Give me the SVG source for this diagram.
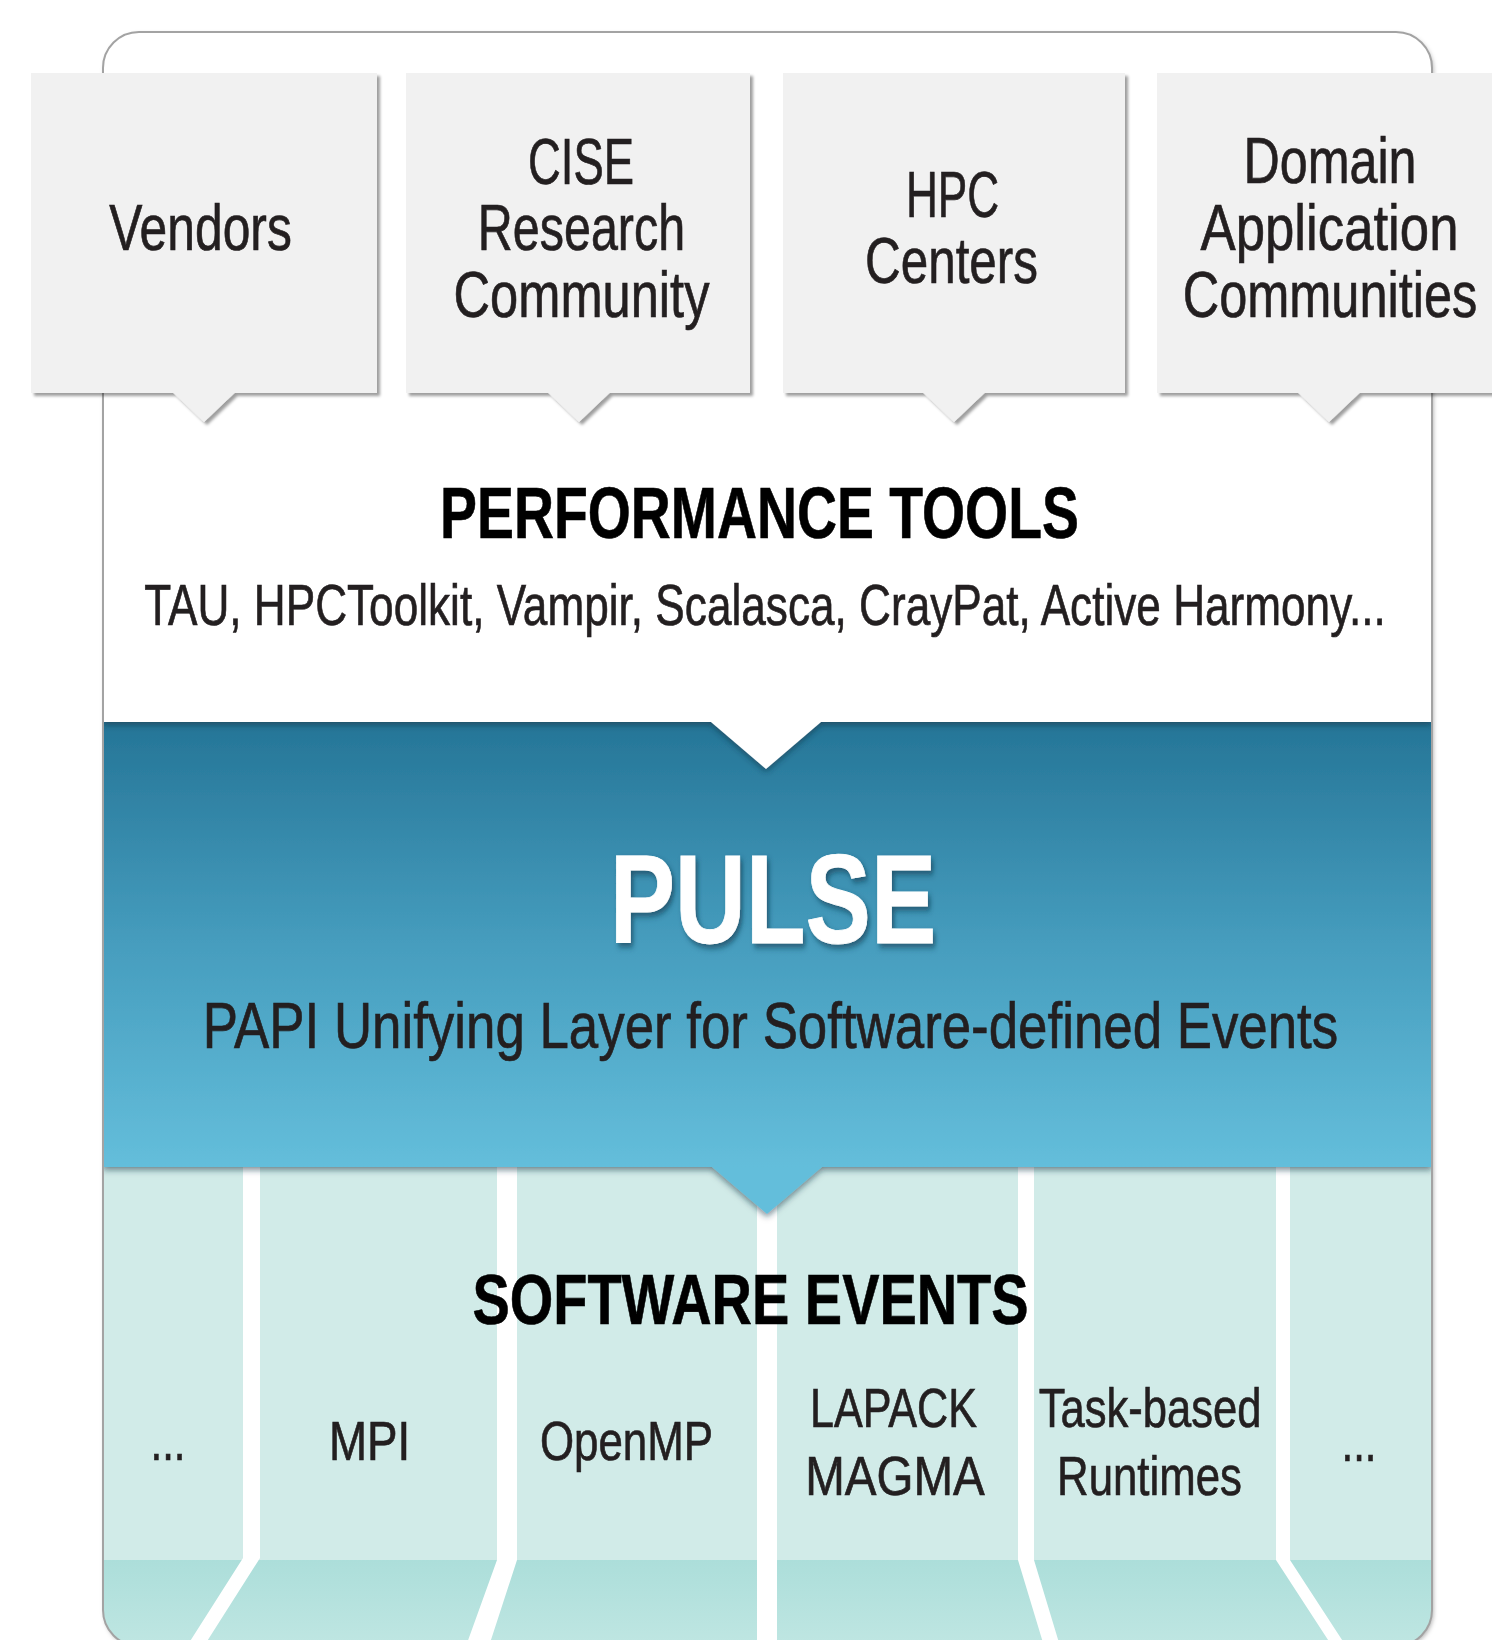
<svg xmlns="http://www.w3.org/2000/svg" width="1492" height="1640" viewBox="0 0 1492 1640">
  <defs>
    <style>
      text { text-anchor: middle; }
      .lbl { font-family: "Liberation Sans", Arial, sans-serif; fill: #231f20; stroke: #231f20; stroke-width: 0.7; }
      .box { fill: #f1f1f1; filter: url(#boxShadow); }
      .hdr { font-family: "Liberation Sans", Arial, sans-serif; font-weight: bold; fill: #000; stroke: #000; stroke-width: 0.6; }
      .sep { fill: #ffffff; }
    </style>
    <filter id="boxShadow" x="-5%" y="-5%" width="115%" height="115%">
      <feDropShadow dx="3" dy="3" stdDeviation="1.6" flood-color="#000" flood-opacity="0.38"/>
    </filter>
    <filter id="edgeShadow" x="-5%" y="-10%" width="110%" height="125%">
      <feDropShadow dx="0" dy="3" stdDeviation="3" flood-color="#0b2f40" flood-opacity="0.55"/>
    </filter>
    <filter id="outerShadow" x="-5%" y="-5%" width="110%" height="110%">
      <feDropShadow dx="1.5" dy="2" stdDeviation="2" flood-color="#000" flood-opacity="0.3"/>
    </filter>
    <filter id="textShadow" x="-10%" y="-10%" width="130%" height="140%">
      <feDropShadow dx="3" dy="4" stdDeviation="3" flood-color="#08384f" flood-opacity="0.65"/>
    </filter>
    <linearGradient id="bandGrad" gradientUnits="userSpaceOnUse" x1="0" y1="722" x2="0" y2="1167">
      <stop offset="0" stop-color="#257597"/>
      <stop offset="0.5" stop-color="#469dbe"/>
      <stop offset="1" stop-color="#64bedb"/>
    </linearGradient>
    <linearGradient id="stripGrad" gradientUnits="userSpaceOnUse" x1="0" y1="1560" x2="0" y2="1646">
      <stop offset="0" stop-color="#acdeda"/>
      <stop offset="1" stop-color="#bfe6e2"/>
    </linearGradient>
    <clipPath id="outerClip">
      <rect x="103" y="32" width="1329" height="1614" rx="36" ry="36"/>
    </clipPath>
  </defs>

  <rect x="0" y="0" width="1492" height="1640" fill="#ffffff"/>

  <!-- outer container -->
  <g id="container">
    <rect x="103" y="32" width="1329" height="1614" rx="36" ry="36" fill="#ffffff" filter="url(#outerShadow)"/>
  </g>

  <g clip-path="url(#outerClip)">
    <!-- software events columns -->
    <g id="software-events">
      <rect x="103" y="1167" width="1329" height="479" fill="#d1ebe8"/>
      <rect x="103" y="1560" width="1329" height="86" fill="url(#stripGrad)"/>
      <polygon class="sep" points="243,1167 260,1167 260,1558 204,1646 187,1646 243,1558"/>
      <polygon class="sep" points="497,1167 517,1167 517,1560 489,1646 466,1646 497,1560"/>
      <rect class="sep" x="757" y="1167" width="20" height="479"/>
      <polygon class="sep" points="1018,1167 1034,1167 1034,1560 1060,1646 1044,1646 1018,1560"/>
      <polygon class="sep" points="1276,1167 1290,1167 1290,1560 1346,1646 1332,1646 1276,1560"/>
      <text class="hdr" font-size="70" transform="translate(750.5,1323.5) scale(0.799,1)">SOFTWARE EVENTS</text>
      <text class="lbl" font-size="56" transform="translate(168,1460) scale(0.75,1)">...</text>
      <text class="lbl" font-size="56" transform="translate(369.5,1460) scale(0.816,1)">MPI</text>
      <text class="lbl" font-size="56" transform="translate(626.5,1460) scale(0.783,1)">OpenMP</text>
      <text class="lbl" font-size="56" transform="translate(893.5,1426.7) scale(0.77,1)">LAPACK</text>
      <text class="lbl" font-size="56" transform="translate(895,1495) scale(0.849,1)">MAGMA</text>
      <text class="lbl" font-size="56" transform="translate(1150,1426.7) scale(0.778,1)">Task-based</text>
      <text class="lbl" font-size="56" transform="translate(1149.5,1495) scale(0.782,1)">Runtimes</text>
      <text class="lbl" font-size="56" transform="translate(1359,1461) scale(0.75,1)">...</text>
    </g>

    <!-- PULSE band -->
    <g id="pulse">
      <path d="M103,722 H1432 V1167 H822 L767,1214 L712,1167 H103 Z" fill="url(#bandGrad)" filter="url(#edgeShadow)"/>
      <text font-family="'Liberation Sans', Arial, sans-serif" font-weight="bold" font-size="126" fill="#ffffff" stroke="#ffffff" stroke-width="0.8" filter="url(#textShadow)" transform="translate(773,943.3) scale(0.777,1)">PULSE</text>
      <text class="lbl" font-size="65" transform="translate(770.5,1048.3) scale(0.813,1)">PAPI Unifying Layer for Software-defined Events</text>
    </g>

    <!-- performance tools area -->
    <g id="performance-tools">
      <path d="M103,0 H1432 V722 H821 L766,769 L711,722 H103 Z" fill="#ffffff" filter="url(#edgeShadow)"/>
      <text class="hdr" font-size="72" transform="translate(759.5,538.3) scale(0.769,1)">PERFORMANCE TOOLS</text>
      <text class="lbl" font-size="58" transform="translate(765,625) scale(0.7615,1)">TAU, HPCToolkit, Vampir, Scalasca, CrayPat, Active Harmony...</text>
    </g>
  </g>

  <!-- outer border -->
  <rect x="103" y="32" width="1329" height="1614" rx="36" ry="36" fill="none" stroke="#a3a3a3" stroke-width="2"/>

  <!-- community boxes -->
  <g id="vendors">
    <path class="box" d="M31,73 H377 V393 H234.5 L204,422 L173.5,393 H31 Z"/>
    <text class="lbl" font-size="64" transform="translate(200.5,250) scale(0.778,1)">Vendors</text>
  </g>
  <g id="cise">
    <path class="box" d="M406,73 H750 V393 H609.5 L579,422 L548.5,393 H406 Z"/>
    <text class="lbl" font-size="64" transform="translate(581,184) scale(0.71,1)">CISE</text>
    <text class="lbl" font-size="64" transform="translate(581.5,250) scale(0.757,1)">Research</text>
    <text class="lbl" font-size="64" transform="translate(581.5,316.7) scale(0.791,1)">Community</text>
  </g>
  <g id="hpc-centers">
    <path class="box" d="M783,73 H1125 V393 H984.5 L954,422 L923.5,393 H783 Z"/>
    <text class="lbl" font-size="64" transform="translate(952.5,216.7) scale(0.69,1)">HPC</text>
    <text class="lbl" font-size="64" transform="translate(951.5,283) scale(0.772,1)">Centers</text>
  </g>
  <g id="domain-communities">
    <path class="box" d="M1157,73 H1502 V393 H1359.5 L1329,422 L1298.5,393 H1157 Z"/>
    <text class="lbl" font-size="64" transform="translate(1330,183.3) scale(0.785,1)">Domain</text>
    <text class="lbl" font-size="64" transform="translate(1329.5,250) scale(0.824,1)">Application</text>
    <text class="lbl" font-size="64" transform="translate(1330,316.7) scale(0.789,1)">Communities</text>
  </g>

  <g id="connectors"></g>
</svg>
